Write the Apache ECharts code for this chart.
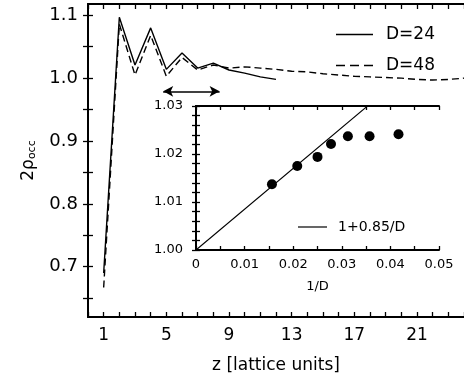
<!DOCTYPE html>
<html>
<head>
<meta charset="utf-8">
<script src="https://cdn.jsdelivr.net/npm/echarts@6/dist/echarts.min.js"></script>
<style>html,body{margin:0;padding:0;background:#fff}#c{width:464px;height:380px}</style>
</head>
<body>
<div id="c"></div>
<script>
// Main panel data
var zValues = [1,2,3,4,5,6,7,8,9,10,11,12,13,14,15,16,17,18,19,20,21,22,23,24];
var d24 = [0.690,1.097,1.021,1.080,1.014,1.040,1.016,1.024,1.013,1.008,1.002,0.998];
var d48 = [0.667,1.086,1.005,1.068,1.003,1.033,1.013,1.021,1.016,1.018,1.016,1.014,1.011,1.010,1.007,1.005,1.003,1.002,1.001,1.000,0.998,0.997,0.998,1.000];
var mainXLabels = [1,5,9,13,17,21];
var mainYLabels = [0.7,0.8,0.9,1.0,1.1];
var mainYTicks = [0.65,0.7,0.75,0.8,0.85,0.9,0.95,1.0,1.05,1.1];
var arrowX = [4.8, 8.4];
var arrowY = 0.979;
// Inset data
var invD = [0.015625,0.020833,0.025,0.027778,0.03125,0.035714,0.041667];
var rhoInset = [1.0137,1.0175,1.0194,1.0221,1.0237,1.0237,1.0241];
var fitX = [0, 0.05];
var fitY = [1.0, 1.0425];
var insetXLabels = [0,0.01,0.02,0.03,0.04,0.05];
var insetYLabels = [1.00,1.01,1.02,1.03];
var insetYTicks = [1.000,1.002,1.004,1.006,1.008,1.010,1.012,1.014,1.016,1.018,1.020,1.022,1.024,1.026,1.028,1.030];

var FONT = 'DejaVu Sans';
var chart = echarts.init(document.getElementById('c'), null, {renderer:'canvas'});

function pair(xs, ys){ return ys.map(function(v,i){return [xs[i], v];}); }

var axLine = {show:true, lineStyle:{color:'#000', width:2}};
var tickIn = function(len){ return {show:true, inside:true, length:len, lineStyle:{color:'#000', width:1.3}}; };

var SOLID_ICON = 'path://M0,0h37v1h-37z';
var DASH_ICON = 'path://M0,0h9v1h-9zM14,0h9v1h-9zM28,0h9v1h-9z';

var option = {
  backgroundColor:'#fff',
  animation:false,
  grid:[
    {left:88, top:4, width:377, height:313, show:false},
    {left:196, top:106, width:243, height:144, show:true, backgroundColor:'#fff', borderWidth:0}
  ],
  legend:[
    {
      data:[{name:'D=24', icon:SOLID_ICON},{name:'D=48', icon:DASH_ICON}],
      orient:'vertical', left:331, top:21,
      itemWidth:37, itemHeight:1.4, itemGap:14, symbolKeepAspect:false,
      textStyle:{fontFamily:FONT, fontSize:17, color:'#000', padding:[0,0,0,8]},
      selectedMode:false
    },
    {
      data:[{name:'1+0.85/D', icon:'path://M0,0h29v1h-29z'}],
      left:293, top:215,
      itemWidth:29, itemHeight:1.2, symbolKeepAspect:false,
      textStyle:{fontFamily:FONT, fontSize:14, color:'#000', padding:[0,0,0,6]},
      selectedMode:false
    }
  ],
  xAxis:[
    {gridIndex:0, type:'value', min:0, max:24, interval:1, position:'bottom',
     axisLine:axLine, axisTick:tickIn(5), splitLine:{show:false},
     axisLabel:{customValues:mainXLabels, fontFamily:FONT, fontSize:17, color:'#000', margin:10},
     name:'z [lattice units]', nameLocation:'middle', nameGap:40,
     nameTextStyle:{fontFamily:FONT, fontSize:17, color:'#000'}},
    {gridIndex:0, type:'value', min:0, max:24, interval:1, position:'top',
     axisLine:axLine, axisTick:tickIn(5), axisLabel:{show:false}, splitLine:{show:false}},
    {gridIndex:1, type:'value', min:0, max:0.05, interval:0.005, position:'bottom',
     axisLine:axLine, axisTick:tickIn(4), splitLine:{show:false},
     axisLabel:{customValues:insetXLabels, fontFamily:FONT, fontSize:13, color:'#000', margin:8,
       formatter:function(v){return v===0?'0':v.toFixed(2);}},
     name:'1/D', nameLocation:'middle', nameGap:30,
     nameTextStyle:{fontFamily:FONT, fontSize:13, color:'#000'}},
    {gridIndex:1, type:'value', min:0, max:0.05, interval:0.005, position:'top',
     axisLine:axLine, axisTick:tickIn(4), axisLabel:{show:false}, splitLine:{show:false}}
  ],
  yAxis:[
    {gridIndex:0, type:'value', min:0.62, max:1.118, position:'left',
     axisLine:axLine, axisTick:{show:true, inside:true, length:5, customValues:mainYTicks, lineStyle:{color:'#000', width:1.3}},
     splitLine:{show:false},
     axisLabel:{customValues:mainYLabels, fontFamily:FONT, fontSize:18, color:'#000', margin:10,
       formatter:function(v){return v.toFixed(1);}},
     name:'2ρ{sub|occ}', nameLocation:'middle', nameGap:50, nameRotate:90,
     nameTextStyle:{fontFamily:FONT, fontSize:17, color:'#000',
       rich:{sub:{fontFamily:FONT, fontSize:11, color:'#000', verticalAlign:'bottom', padding:[8,0,0,0]}}}},
    {gridIndex:0, type:'value', min:0.62, max:1.118, position:'right',
     axisLine:axLine, axisTick:{show:true, inside:true, length:5, customValues:mainYTicks, lineStyle:{color:'#000', width:1.3}},
     axisLabel:{show:false}, splitLine:{show:false}},
    {gridIndex:1, type:'value', min:1.0, max:1.03, position:'left',
     axisLine:axLine, axisTick:{show:true, inside:true, length:4, customValues:insetYTicks, lineStyle:{color:'#000', width:1.3}},
     splitLine:{show:false},
     axisLabel:{customValues:insetYLabels, fontFamily:FONT, fontSize:13, color:'#000', margin:13,
       formatter:function(v){return v.toFixed(2);}}},
    {gridIndex:1, type:'value', min:1.0, max:1.03, position:'right',
     axisLine:axLine, axisTick:{show:true, inside:true, length:4, customValues:insetYTicks, lineStyle:{color:'#000', width:1.3}},
     axisLabel:{show:false}, splitLine:{show:false}}
  ],
  series:[
    {name:'D=24', type:'line', xAxisIndex:0, yAxisIndex:0, data:pair(zValues, d24),
     symbol:'none', lineStyle:{color:'#000', width:1.4}, itemStyle:{color:'#000'},
     markLine:{silent:true, symbol:['arrow','arrow'], symbolSize:[8,10], label:{show:false},
       lineStyle:{color:'#000', width:1.6, type:'solid'},
       data:[[{coord:[arrowX[0], arrowY]},{coord:[arrowX[1], arrowY]}]]}},
    {name:'D=48', type:'line', xAxisIndex:0, yAxisIndex:0, data:pair(zValues, d48),
     symbol:'none', lineStyle:{color:'#000', width:1.4, type:[7,4]}, itemStyle:{color:'#000'}},
    {name:'data', type:'scatter', xAxisIndex:2, yAxisIndex:2, data:pair(invD, rhoInset),
     symbol:'circle', symbolSize:10, itemStyle:{color:'#000', opacity:1}, z:5},
    {name:'1+0.85/D', type:'line', xAxisIndex:2, yAxisIndex:2, data:pair(fitX, fitY),
     symbol:'none', clip:true, lineStyle:{color:'#000', width:1.1}, itemStyle:{color:'#000'}}
  ]
};
chart.setOption(option);
</script>
</body>
</html>
